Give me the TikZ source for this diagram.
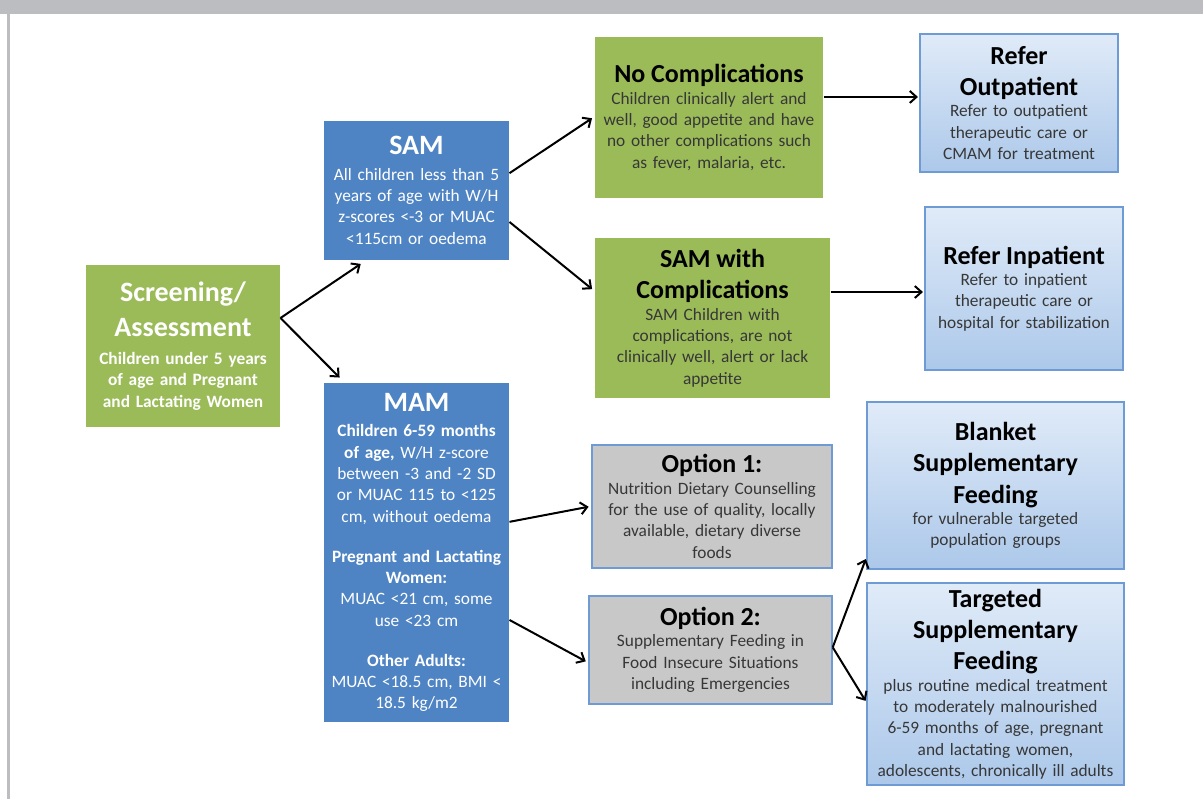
\documentclass[tikz,border=0pt]{standalone}
\usepackage{fontspec}
\setmainfont{Carlito}
\usetikzlibrary{arrows.meta}

\definecolor{boxgreen}{RGB}{155,187,89}
\definecolor{boxblue}{RGB}{79,132,196}
\definecolor{edgeblue}{RGB}{110,155,212}
\definecolor{paleblue}{RGB}{224,235,248}
\definecolor{midblue}{RGB}{172,200,234}
\definecolor{optgray}{RGB}{200,200,200}
\definecolor{framegray}{RGB}{188,189,192}
\definecolor{bodygray}{RGB}{55,55,55}

\newcommand\ttlbig{\fontsize{21}{26}\selectfont\bfseries}
\newcommand\ttl{\fontsize{19.5}{23.5}\selectfont\bfseries\color{black}}
\newcommand\bdy{\fontsize{13}{16}\selectfont}

\tikzset{every picture/.style={line width=0.75pt}}
\tikzset{box/.style={inner sep=0pt,align=center,font=\bdy}}
\tikzset{wd/.style={minimum width=#1,text width=#1}}
\tikzset{greenbox/.style={box,fill=boxgreen}}
\tikzset{bluebox/.style={box,fill=boxblue,text=white}}
\tikzset{lightbox/.style={box,top color=paleblue,bottom color=midblue,draw=edgeblue,line width=1.1pt,text=bodygray}}
\tikzset{optbox/.style={box,fill=optgray,draw=edgeblue,line width=1.1pt,text=bodygray}}
\tikzset{arr/.style={-{Straight Barb[length=5pt,width=9pt]},line width=1.5pt,shorten >=1pt}}

\begin{document}
\begin{tikzpicture}[x=0.75pt,y=0.75pt,yscale=-1,xscale=1]
		\useasboundingbox (0,0) rectangle (1203,799);
		
		\fill[framegray] (0,0) rectangle (1203,14);
		\fill[framegray] (7,14) rectangle (9.5,799);
		
		% left column
		\node[greenbox,wd=145.5pt,minimum height=121.5pt,text=white] (scr) at (183,346) {{\ttlbig Screening/\\Assessment\par}\vspace{5pt}\textbf{Children under 5 years\\of age and Pregnant\\and Lactating Women}};
		\node[bluebox,wd=138.75pt,minimum height=104.25pt] (sam) at (416.5,190.5) {{\ttlbig SAM\par}\vspace{3pt}All children less than 5\\years of age with W/H\\z-scores <-3 or MUAC\\<115cm or oedema};
		\node[bluebox,wd=138.75pt,minimum height=254.25pt] (mam) at (416.5,552.5) {{\ttlbig MAM\par}\vspace{3pt}\textbf{Children 6-59 months\\of age,} W/H z-score\\between -3 and -2 SD\\or MUAC 115 to <125\\cm, without oedema\\[14pt]\textbf{Pregnant and Lactating\\Women:}\\MUAC <21 cm, some\\use <23 cm\\[14pt]\textbf{Other Adults:}\\MUAC <18.5 cm, BMI <\\18.5 kg/m2};
		
		% middle column
		\node[greenbox,wd=171pt,minimum height=120.75pt,text=bodygray] (nocomp) at (709,117.5) {{\ttl No Complications\par}Children clinically alert and\\well, good appetite and have\\no other complications such\\as fever, malaria, etc.};
		\node[greenbox,wd=176.25pt,minimum height=120pt,text=bodygray] (samc) at (712.5,318) {{\ttl SAM with\\Complications\par}SAM Children with\\complications, are not\\clinically well, alert or lack\\appetite};
		\node[optbox,wd=180pt,minimum height=92.25pt] (opt1) at (712,506.5) {{\ttl Option 1:\par}Nutrition Dietary Counselling\\for the use of quality, locally\\available, dietary diverse\\foods};
		\node[optbox,wd=182.25pt,minimum height=81pt] (opt2) at (710.5,650) {{\ttl Option 2:\par}Supplementary Feeding in\\Food Insecure Situations\\including Emergencies};
		
		% right column
		\node[lightbox,wd=148.5pt,minimum height=103.5pt] (out) at (1019,103) {{\ttl Refer\\Outpatient\par}Refer to outpatient\\therapeutic care or\\CMAM for treatment};
		\node[lightbox,wd=148.5pt,minimum height=122.25pt] (inp) at (1024,288.5) {{\ttl Refer Inpatient\par}Refer to inpatient\\therapeutic care or\\hospital for stabilization};
		\node[lightbox,wd=192.75pt,minimum height=125.25pt] (blk) at (995.5,485.5) {{\ttl Blanket\\Supplementary\\Feeding\par}for vulnerable targeted\\population groups};
		\node[lightbox,wd=192.75pt,minimum height=151.5pt] (tgt) at (995.5,684) {{\ttl Targeted\\Supplementary\\Feeding\par}plus routine medical treatment\\to moderately malnourished\\6-59 months of age, pregnant\\and lactating women,\\adolescents, chronically ill adults};
		
		% connectors
		\draw[arr] ([yshift=-21pt]scr.east) -- ([xshift=-41pt,yshift=2pt]sam.south);
		\draw[arr] ([yshift=-21pt]scr.east) -- ([xshift=-57pt,yshift=-3pt]mam.north);
		\draw[arr] ([yshift=-13pt]sam.east) -- ([xshift=-1pt]nocomp.west);
		\draw[arr] ([yshift=23.6pt]sam.east) -- ([xshift=-1pt,yshift=-21pt]samc.west);
		\draw[arr] ([yshift=-15.4pt]nocomp.east) coordinate (a1) -- (a1 -| out.west);
		\draw[arr] ([yshift=-19.5pt]samc.east) coordinate (a2) -- (a2 -| inp.west);
		\draw[arr] ([yshift=-23pt]mam.east) -- ([xshift=-1pt]opt1.west);
		\draw[arr] ([yshift=50.6pt]mam.east) -- ([xshift=-1pt,yshift=9pt]opt2.west);
		\draw[arr] ([yshift=-2pt]opt2.east) -- ([yshift=-9pt]blk.south west);
		\draw[arr] ([yshift=-2pt]opt2.east) -- ([yshift=13.5pt]tgt.west);
		
	\end{tikzpicture}
\end{document}
